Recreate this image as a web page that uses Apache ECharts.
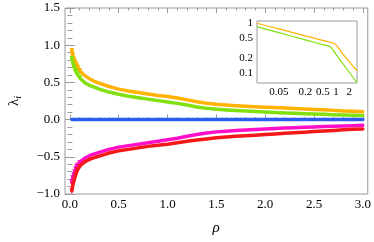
<!DOCTYPE html>
<html>
<head>
<meta charset="utf-8">
<script src="https://cdn.jsdelivr.net/npm/echarts@6/dist/echarts.min.js"></script>
<style>html,body{margin:0;padding:0;background:#fff}#c{width:374px;height:242px}</style>
</head>
<body>
<div id="c"></div>
<script>
// ---- data ----
const rho = [0.02,0.03,0.04,0.05,0.06,0.07,0.08,0.1,0.12,0.15,0.2,0.25,0.3,0.4,0.5,0.6,0.7,0.8,0.9,1.0,1.1,1.2,1.3,1.4,1.5,1.6,1.7,1.8,1.9,2.0,2.1,2.2,2.3,2.4,2.5,2.6,2.7,2.8,2.9,3.0];
const lamOrange = [0.93,0.86,0.81,0.78,0.75,0.72,0.70,0.66,0.63,0.595,0.55,0.515,0.49,0.445,0.41,0.385,0.365,0.345,0.325,0.31,0.29,0.265,0.24,0.22,0.205,0.195,0.187,0.18,0.173,0.167,0.161,0.155,0.149,0.143,0.137,0.131,0.124,0.117,0.111,0.105];
const lamGreen = [0.82,0.77,0.72,0.68,0.65,0.625,0.60,0.565,0.535,0.50,0.46,0.435,0.41,0.37,0.34,0.315,0.295,0.275,0.255,0.237,0.218,0.195,0.17,0.152,0.14,0.13,0.122,0.115,0.108,0.102,0.096,0.09,0.085,0.08,0.075,0.071,0.066,0.062,0.058,0.055];
const lamBlue = [0,0,0,0,0,0,0,0,0,0,0,0,0,0,0,0,0,0,0,0,0,0,0,0,0,0,0,0,0,0,0,0,0,0,0,0,0,0,0,0];
const lamPink = [-0.84,-0.78,-0.74,-0.70,-0.66,-0.63,-0.61,-0.58,-0.55,-0.52,-0.485,-0.46,-0.44,-0.40,-0.37,-0.35,-0.33,-0.31,-0.29,-0.27,-0.25,-0.225,-0.2,-0.18,-0.165,-0.155,-0.147,-0.14,-0.133,-0.126,-0.12,-0.114,-0.108,-0.103,-0.098,-0.093,-0.089,-0.085,-0.081,-0.077];
const lamRed = [-0.96,-0.88,-0.83,-0.78,-0.74,-0.70,-0.67,-0.63,-0.60,-0.57,-0.535,-0.51,-0.49,-0.45,-0.42,-0.40,-0.38,-0.36,-0.345,-0.33,-0.31,-0.29,-0.275,-0.26,-0.245,-0.235,-0.225,-0.217,-0.209,-0.201,-0.193,-0.185,-0.177,-0.169,-0.161,-0.153,-0.145,-0.138,-0.131,-0.125];

// inset (log-log)
const insetRhoOrange = [0.016,0.05,0.2,0.5,0.8,1.0,1.5,2.0,3.0];
const insetOrange = [1.0,0.77,0.56,0.455,0.41,0.37,0.23,0.17,0.113];
const insetRhoGreen = [0.016,0.05,0.2,0.5,0.74,1.0,1.5,2.0,3.0];
const insetGreen = [0.855,0.65,0.466,0.374,0.34,0.238,0.148,0.105,0.065];

const xTickLabels = [0,0.5,1,1.5,2,2.5,3];
const yTickLabels = [-1,-0.5,0,0.5,1,1.5];
const insetXTicks = [0.05,0.2,0.5,1,2];
const insetYTicks = [0.1,0.2,0.5,1];

// minor tick positions (axis decoration)
const xMinor = [];
for (let i = 0; i <= 30; i++) if (i % 5 !== 0) xMinor.push(i / 10);

const pairs = (xs, ys) => xs.map((x, i) => [x, ys[i]]);
const FONT = 'Liberation Serif';
const FRAME = '#9a9a9a';

const chart = echarts.init(document.getElementById('c'), null, {renderer: 'canvas'});

function mainSeries(ys, color, width, sym) {
  return {
    type: 'line', xAxisIndex: 0, yAxisIndex: 0,
    data: pairs(rho, ys),
    lineStyle: {color: color, width: width, cap: 'round', join: 'round'},
    itemStyle: {color: color, borderWidth: 0},
    symbol: sym ? 'triangle' : 'none',
    symbolRotate: 180,
    symbolSize: v => (v[0] <= 0.1 ? 5 : 0),
    showSymbol: !!sym,
    z: 3
  };
}

const fmt = v => (v < 0 ? '\u2212' + Math.abs(v).toFixed(1) : v.toFixed(1));

const option = {
  animation: false,
  backgroundColor: '#fff',
  grid: [
    {left: 65, right: 6, top: 8, bottom: 48, show: true, borderColor: FRAME, borderWidth: 1, backgroundColor: 'transparent'},
    {left: 257, top: 21, width: 100, height: 62, show: true, borderColor: FRAME, borderWidth: 1, backgroundColor: '#fff', z: 5}
  ],
  xAxis: [
    {type: 'value', gridIndex: 0, min: -0.05, max: 3.05, position: 'bottom',
      axisLine: {show: false}, splitLine: {show: false},
      axisTick: {show: true, inside: true, length: 5, customValues: xTickLabels, lineStyle: {color: FRAME}},
      axisLabel: {show: true, customValues: xTickLabels, formatter: fmt, fontFamily: FONT, fontSize: 13, color: '#000', margin: 4}},
    {type: 'value', gridIndex: 0, min: -0.05, max: 3.05, position: 'bottom',
      axisLine: {show: false}, splitLine: {show: false}, axisLabel: {show: false},
      axisTick: {show: true, inside: true, length: 2.5, customValues: xMinor, lineStyle: {color: FRAME}}},
    {type: 'value', gridIndex: 0, min: -0.05, max: 3.05, position: 'top',
      axisLine: {show: false}, splitLine: {show: false}, axisLabel: {show: false},
      axisTick: {show: true, inside: true, length: 5, customValues: xTickLabels, lineStyle: {color: FRAME}}},
    {type: 'value', gridIndex: 0, min: -0.05, max: 3.05, position: 'top',
      axisLine: {show: false}, splitLine: {show: false}, axisLabel: {show: false},
      axisTick: {show: true, inside: true, length: 2.5, customValues: xMinor, lineStyle: {color: FRAME}}},
    {type: 'log', gridIndex: 1, min: 0.016, max: 3.0, logBase: 10, position: 'bottom',
      axisLine: {show: false}, splitLine: {show: false},
      axisTick: {show: true, inside: true, length: 3, customValues: insetXTicks, lineStyle: {color: FRAME}},
      axisLabel: {show: true, customValues: insetXTicks, formatter: v => String(+v.toPrecision(3)), fontFamily: FONT, fontSize: 11, color: '#000', margin: 4}}
  ],
  yAxis: [
    {type: 'value', gridIndex: 0, min: -1, max: 1.5, interval: 0.5, position: 'left',
      axisLine: {show: false}, splitLine: {show: false},
      axisTick: {show: true, inside: true, length: 5, lineStyle: {color: FRAME}},
      minorTick: {show: true, splitNumber: 5, length: 2.5, lineStyle: {color: FRAME}},
      axisLabel: {formatter: fmt, fontFamily: FONT, fontSize: 13, color: '#000', margin: 5}},
    {type: 'value', gridIndex: 0, min: -1, max: 1.5, interval: 0.5, position: 'right',
      axisLine: {show: false}, splitLine: {show: false}, axisLabel: {show: false},
      axisTick: {show: true, inside: true, length: 5, lineStyle: {color: FRAME}},
      minorTick: {show: true, splitNumber: 5, length: 2.5, lineStyle: {color: FRAME}}},
    {type: 'log', gridIndex: 1, min: 0.064, max: 1.11, logBase: 10, position: 'left',
      axisLine: {show: false}, splitLine: {show: false},
      axisTick: {show: true, inside: true, length: 3, customValues: insetYTicks, lineStyle: {color: FRAME}},
      axisLabel: {show: true, customValues: insetYTicks, formatter: v => String(+v.toPrecision(3)), fontFamily: FONT, fontSize: 11, color: '#000', margin: 4}}
  ],
  series: [
    mainSeries(lamBlue, '#2a5ef0', 3.5, false),
    mainSeries(lamOrange, '#ffb200', 3.5, true),
    mainSeries(lamGreen, '#80e010', 3.5, true),
    mainSeries(lamPink, '#ff10c8', 3.5, true),
    mainSeries(lamRed, '#f51818', 3.5, true),
    {type: 'line', xAxisIndex: 4, yAxisIndex: 2, data: pairs(insetRhoOrange, insetOrange), symbol: 'none', smooth: 0.3,
      lineStyle: {color: '#ffb200', width: 1.2}, z: 6},
    {type: 'line', xAxisIndex: 4, yAxisIndex: 2, data: pairs(insetRhoGreen, insetGreen), symbol: 'none', smooth: 0.3,
      lineStyle: {color: '#80e010', width: 1.2}, z: 6}
  ],
  graphic: [
    {type: 'text', x: 14, y: 101, rotation: Math.PI / 2,
      style: {text: '{a|λ}{b|i}', align: 'center', verticalAlign: 'middle',
        rich: {a: {fontFamily: FONT, fontSize: 15, fill: '#000'}, b: {fontFamily: FONT, fontSize: 10, fontStyle: 'italic', fill: '#000', padding: [8, 0, 0, 0]}}}},
    {type: 'text', x: 216, y: 228,
      style: {text: 'ρ', fontFamily: FONT, fontSize: 15, fontStyle: 'italic', fill: '#000', align: 'center', verticalAlign: 'middle'}}
  ]
};
chart.setOption(option);
</script>
</body>
</html>
